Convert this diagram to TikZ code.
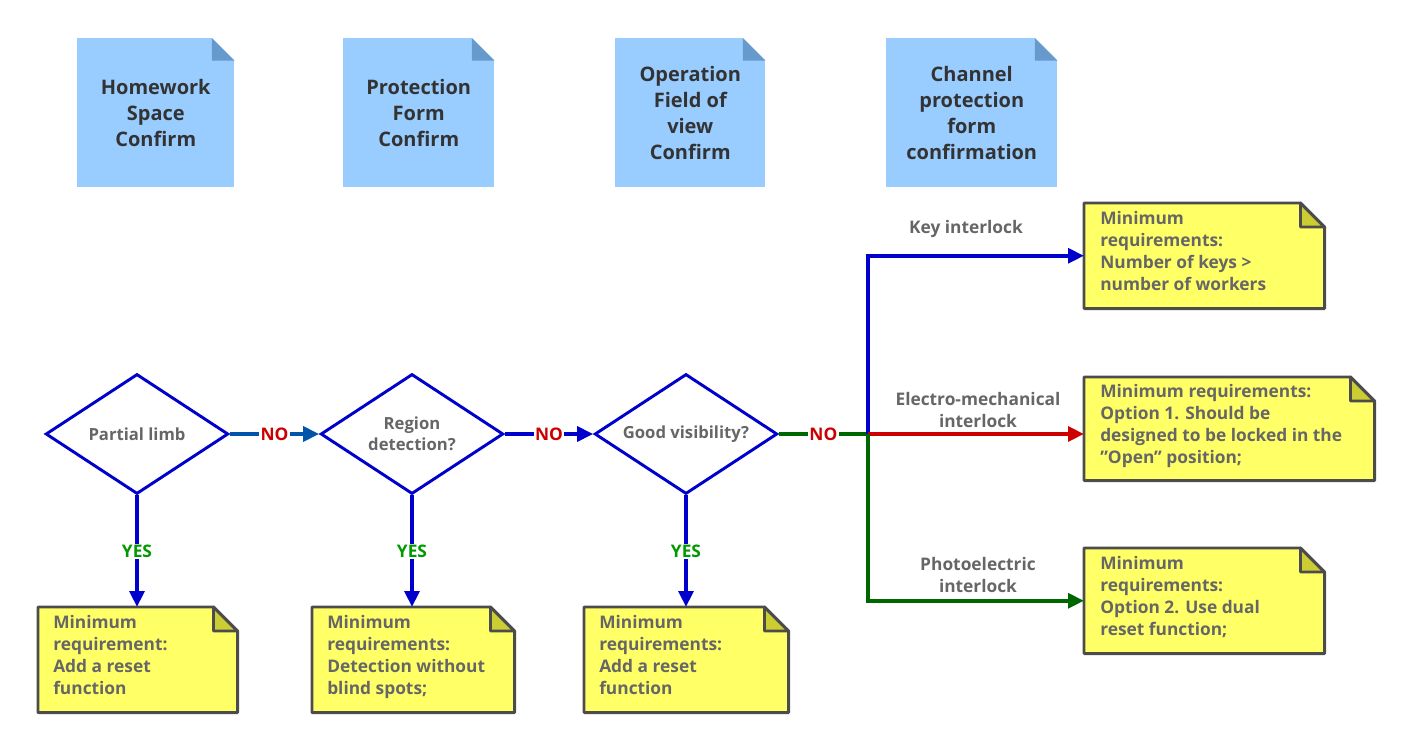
\documentclass[tikz,border=0pt]{standalone}
\usepackage{fontspec}
\setmainfont{Open Sans}
\usetikzlibrary{shapes.geometric, arrows.meta, positioning}
\definecolor{docblue}{HTML}{99CCFF}
\definecolor{docfold}{HTML}{6699CC}
\definecolor{noteyel}{HTML}{FFFF66}
\definecolor{notefold}{HTML}{CCCC33}
\definecolor{dkblue}{HTML}{0000CC}
\definecolor{nogreen}{HTML}{006600}
\definecolor{nored}{HTML}{CC0000}
\definecolor{txtgray}{HTML}{666666}
\tikzset{
  doc/.style = {anchor=north west, inner sep=0pt, fill=docblue, align=center,
    font=\bfseries\fontsize{15}{19.5}\selectfont, text=black!80},
  note/.style = {anchor=north west, inner sep=0pt, align=left,
    font=\bfseries\fontsize{13}{16.5}\selectfont, text=txtgray},
  decision/.style = {diamond, draw=dkblue, line width=2.2pt, fill=white, aspect=1.5,
    inner sep=0pt, minimum width=137pt, minimum height=90pt, align=center,
    font=\bfseries\fontsize{12.5}{16}\selectfont, text=txtgray},
  flow/.style = {line width=3pt, -{Triangle[length=12pt, width=11pt]}},
  lbl/.style = {font=\bfseries\fontsize{13}{16}\selectfont, fill=white, inner sep=1pt},
  branch/.style = {font=\bfseries\fontsize{13}{16}\selectfont, text=txtgray, align=center}
}
% folded-corner outline of a note node
\newcommand{\notebox}[1]{
  \fill[noteyel] (#1.south west) -- (#1.north west) -- ([xshift=-18pt]#1.north east)
    -- ([yshift=-18pt]#1.north east) -- (#1.south east) -- cycle;
  \filldraw[notefold, draw=black!70, line width=2pt, line join=round]
    ([xshift=-18pt]#1.north east) -- ([xshift=-18pt, yshift=-18pt]#1.north east)
    -- ([yshift=-18pt]#1.north east) -- cycle;
  \draw[black!70, line width=2.2pt, line join=round] (#1.south west) -- (#1.north west)
    -- ([xshift=-18pt]#1.north east) -- ([yshift=-18pt]#1.north east)
    -- (#1.south east) -- cycle;
}
\newcommand{\docfold}[1]{
  \fill[white] ([xshift=-17pt]#1.north east) -- (#1.north east) -- ([yshift=-17pt]#1.north east) -- cycle;
  \fill[docfold] ([xshift=-17pt]#1.north east) -- ([xshift=-17pt, yshift=-17pt]#1.north east)
    -- ([yshift=-17pt]#1.north east) -- cycle;
}
\begin{document}
\begin{tikzpicture}[x=0.75pt, y=-0.75pt]
\useasboundingbox (0,0) rectangle (1411,749);

% header documents
\node[doc, minimum width=117.75pt, minimum height=111.75pt] (hws) at (77,38) {Homework\\Space\\Confirm};
\node[doc, minimum width=113.25pt, minimum height=111.75pt] (pfc) at (343,38) {Protection\\Form\\Confirm};
\node[doc, minimum width=112.5pt, minimum height=111.75pt] (ofc) at (615,38) {Operation\\Field of\\view\\Confirm};
\node[doc, minimum width=128.25pt, minimum height=111.75pt] (cpf) at (886,38) {Channel\\protection\\form\\confirmation};
\foreach \d in {hws, pfc, ofc, cpf} {\docfold{\d}}

% decisions
\node[decision] (limb) at (137,434) {Partial limb};
\node[decision] (region) at (412,434) {Region\\detection?};
\node[decision] (vis) at (686,434) {Good visibility?};

% notes
\node[note, minimum width=149.25pt, minimum height=78.75pt] (n1) at (38,607) {};
\node[note, minimum width=151.5pt, minimum height=78.75pt] (n2) at (312,607) {};
\node[note, minimum width=153pt, minimum height=78.75pt] (n3) at (584,607) {};
\node[note, minimum width=180pt, minimum height=78.75pt] (n4) at (1084,203) {};
\node[note, minimum width=217.5pt, minimum height=77.25pt] (n5) at (1084,377) {};
\node[note, minimum width=180pt, minimum height=78.75pt] (n6) at (1084,548) {};
\foreach \n in {n1, n2, n3, n4, n5, n6} {\notebox{\n}}
\node[note] at (53,615) {Minimum\\requirement:\\Add a reset\\function};
\node[note] at (327,615) {Minimum\\requirements:\\Detection without\\blind spots;};
\node[note] at (599,615) {Minimum\\requirements:\\Add a reset\\function};
\node[note] at (1100,211) {Minimum\\requirements:\\Number of keys >\\number of workers};
\node[note] at (1100,384) {Minimum requirements:\\Option 1. Should be\\designed to be locked in the\\"Open" position;};
\node[note] at (1100,556) {Minimum\\requirements:\\Option 2. Use dual\\reset function;};

% junction
\coordinate (jn) at (868,434);

% connectors
\draw[flow, draw=blue!50!black!80!cyan, -{Triangle[length=12pt, width=11pt]}, draw={rgb,255:red,0;green,85;blue,170}] (limb) -- node[lbl, text=nored] {NO} (region);
\draw[flow, draw=dkblue] (region) -- node[lbl, text=nored] {NO} (vis);
\draw[line width=3pt, nogreen] (vis) -- node[lbl, text=nored] {NO} (jn);
\draw[flow, draw=dkblue] (jn) |- (n4.west);
\draw[flow, draw=nored] (jn) -- (n5.west |- jn);
\draw[flow, draw=nogreen] (jn) |- (n6.west);
\foreach \d/\n in {limb/n1, region/n2, vis/n3}
  \draw[flow, draw=dkblue] (\d) -- node[lbl, text={rgb,255:red,0;green,153;blue,0}] {YES} (\d |- \n.north);

% branch labels
\node[branch] at (966,229) {Key interlock};
\node[branch] at (978,410) {Electro-mechanical\\interlock};
\node[branch] at (978,575) {Photoelectric\\interlock};
\end{tikzpicture}
\end{document}
